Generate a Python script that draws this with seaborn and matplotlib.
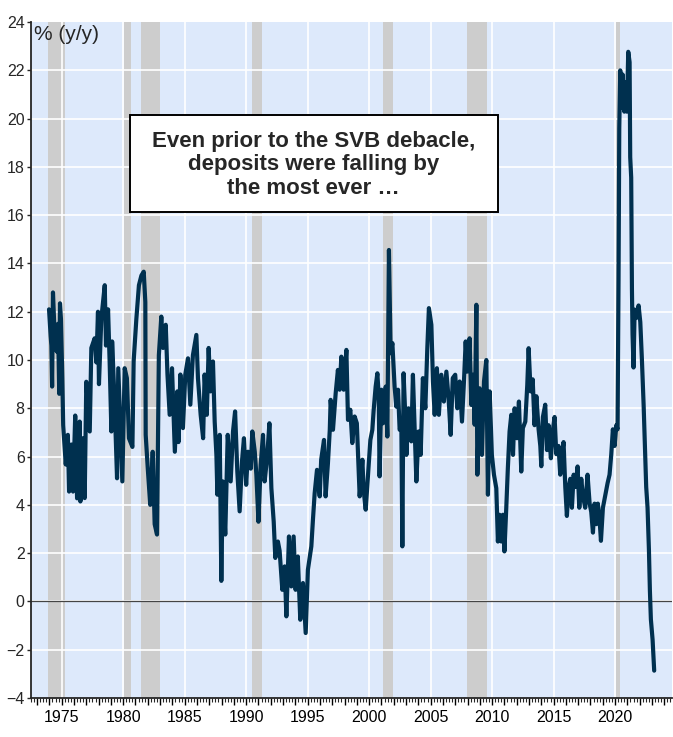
import matplotlib
matplotlib.use("Agg")
import matplotlib.pyplot as plt
import matplotlib.ticker as mticker
import pandas as pd
import seaborn as sns

# Deposits growth, % y/y
years = [1973.97, 1974.10, 1974.16, 1974.22, 1974.29, 1974.43, 1974.60, 1974.70, 1974.80, 1974.86,
         1974.94, 1975.05, 1975.12, 1975.33, 1975.50, 1975.60, 1975.79, 1975.92, 1976.10, 1976.25,
         1976.46, 1976.52, 1976.70, 1976.87, 1977.00, 1977.28, 1977.41, 1977.68, 1977.82, 1977.95,
         1978.03, 1978.22, 1978.50, 1978.60, 1978.77, 1978.90, 1979.04, 1979.10, 1979.30, 1979.50,
         1979.60, 1979.80, 1979.93, 1980.12, 1980.30, 1980.47, 1980.75, 1980.85, 1981.07, 1981.28,
         1981.48, 1981.67, 1981.80, 1981.83, 1982.00, 1982.20, 1982.40, 1982.56, 1982.75, 1982.90,
         1983.10, 1983.24, 1983.46, 1983.60, 1983.78, 1983.97, 1984.20, 1984.40, 1984.50, 1984.65,
         1984.86, 1985.05, 1985.27, 1985.46, 1985.67, 1985.95, 1986.08, 1986.30, 1986.50, 1986.62,
         1986.80, 1986.95, 1987.10, 1987.30, 1987.44, 1987.58, 1987.66, 1987.85, 1987.98, 1988.10,
         1988.30, 1988.50, 1988.74, 1988.93, 1989.10, 1989.28, 1989.47, 1989.66, 1989.82, 1990.00,
         1990.15, 1990.37, 1990.50, 1990.70, 1990.83, 1991.00, 1991.18, 1991.37, 1991.50, 1991.70,
         1991.89, 1992.05, 1992.24, 1992.37, 1992.58, 1992.72, 1992.80, 1992.94, 1993.13, 1993.27,
         1993.48, 1993.67, 1993.86, 1994.02, 1994.20, 1994.40, 1994.62, 1994.84, 1995.02, 1995.30,
         1995.43, 1995.57, 1995.76, 1995.98, 1996.10, 1996.33, 1996.46, 1996.65, 1996.80, 1996.87,
         1997.06, 1997.28, 1997.46, 1997.60, 1997.74, 1997.93, 1998.15, 1998.28, 1998.47, 1998.63,
         1998.82, 1999.00, 1999.23, 1999.45, 1999.55, 1999.72, 1999.90, 2000.10, 2000.26, 2000.37,
         2000.53, 2000.67, 2000.78, 2000.85, 2001.00, 2001.13, 2001.35, 2001.48, 2001.61, 2001.75,
         2001.89, 2002.07, 2002.21, 2002.35, 2002.48, 2002.62, 2002.70, 2002.80, 2002.92, 2003.03,
         2003.20, 2003.43, 2003.56, 2003.70, 2003.84, 2004.02, 2004.19, 2004.37, 2004.57, 2004.73,
         2004.86, 2005.06, 2005.19, 2005.33, 2005.51, 2005.67, 2005.87, 2006.08, 2006.28, 2006.46,
         2006.63, 2006.80, 2007.00, 2007.17, 2007.36, 2007.55, 2007.71, 2007.85, 2007.98, 2008.17,
         2008.31, 2008.44, 2008.58, 2008.72, 2008.80, 2008.98, 2009.17, 2009.34, 2009.53, 2009.66,
         2009.80, 2009.98, 2010.15, 2010.34, 2010.47, 2010.60, 2010.75, 2010.88, 2011.00, 2011.15,
         2011.28, 2011.42, 2011.56, 2011.70, 2011.83, 2012.02, 2012.18, 2012.37, 2012.50, 2012.70,
         2012.86, 2012.97, 2013.13, 2013.30, 2013.45, 2013.60, 2013.78, 2013.92, 2014.00, 2014.13,
         2014.32, 2014.46, 2014.59, 2014.78, 2014.95, 2015.08, 2015.22, 2015.40, 2015.54, 2015.68,
         2015.81, 2015.95, 2016.08, 2016.22, 2016.36, 2016.49, 2016.63, 2016.79, 2016.95, 2017.09,
         2017.25, 2017.38, 2017.57, 2017.76, 2017.93, 2018.06, 2018.20, 2018.33, 2018.47, 2018.60,
         2018.74, 2018.85, 2019.01, 2019.20, 2019.39, 2019.55, 2019.69, 2019.82, 2019.96, 2020.10,
         2020.20, 2020.28, 2020.34, 2020.42, 2020.50, 2020.61, 2020.75, 2020.88, 2020.96, 2021.07,
         2021.18, 2021.23, 2021.31, 2021.37, 2021.42, 2021.50, 2021.59, 2021.72, 2021.91, 2022.05,
         2022.18, 2022.32, 2022.45, 2022.53, 2022.64, 2022.75, 2022.83, 2022.91, 2023.05, 2023.18]
growth = [12.1, 11.0, 10.6, 8.9, 12.8, 11.0, 10.35, 11.5, 8.6, 12.35,
          11.7, 9.25, 7.3, 5.67, 6.9, 4.55, 6.5, 4.55, 7.7, 4.27,
          7.45, 4.14, 6.76, 4.28, 9.1, 7.04, 10.5, 10.9, 9.9, 12.0,
          9.0, 11.7, 13.1, 10.6, 12.1, 9.9, 7.04, 10.77, 8.28, 5.1,
          9.66, 6.76, 4.97, 9.66, 9.25, 6.76, 6.4, 9.94, 11.7, 13.1,
          13.5, 13.66, 12.4, 6.9, 5.5, 4.0, 6.2, 3.2, 2.77, 10.2,
          11.8, 10.5, 11.46, 9.4, 7.73, 9.66, 6.2, 8.7, 6.6, 9.4,
          7.18, 9.4, 10.07, 8.15, 10.2, 11.04, 9.25, 7.73, 6.76, 9.4,
          7.73, 10.5, 8.7, 9.94, 7.45, 6.07, 4.42, 6.9, 0.85, 4.97,
          2.77, 6.9, 4.97, 7.04, 7.87, 5.38, 3.73, 5.8, 6.76, 4.83,
          6.2, 5.5, 7.04, 6.2, 5.25, 3.3, 5.66, 6.9, 4.97, 5.93,
          7.38, 4.69, 3.3, 1.8, 2.48, 2.1, 1.5, 0.48, 1.45, -0.62,
          2.69, 0.62, 2.69, 0.48, 1.86, -0.76, 0.76, -1.31, 1.31, 2.28,
          3.38, 4.48, 5.45, 4.35, 5.87, 6.69, 4.35, 5.73, 7.11, 8.35,
          7.11, 8.63, 9.59, 8.77, 10.14, 8.77, 10.42, 7.52, 7.94, 6.56,
          7.66, 7.38, 4.35, 5.87, 4.62, 3.8, 5.18, 6.69, 7.11, 7.94,
          8.9, 9.45, 8.49, 5.18, 8.77, 7.38, 8.9, 6.83, 14.56, 10.28,
          10.7, 8.9, 8.07, 8.77, 7.11, 7.25, 2.28, 9.45, 7.94, 6.07,
          8.0, 6.63, 9.39, 7.18, 4.97, 7.04, 6.07, 9.25, 8.0, 10.49,
          12.15, 11.46, 9.11, 7.73, 9.66, 7.73, 9.39, 8.28, 9.52, 8.42,
          6.9, 9.25, 9.39, 8.0, 9.11, 7.45, 9.11, 10.77, 9.52, 10.9,
          8.14, 9.39, 7.32, 12.29, 5.25, 8.83, 6.07, 9.11, 10.0, 4.42,
          8.7, 6.07, 5.25, 4.69, 2.48, 3.59, 2.48, 3.59, 2.07, 3.86,
          5.52, 7.04, 7.73, 6.07, 8.0, 6.76, 8.28, 5.38, 7.18, 7.45,
          8.97, 10.49, 8.7, 9.2, 7.3, 8.5, 7.13, 6.44, 5.6, 7.64,
          8.15, 6.27, 7.3, 5.93, 7.13, 7.64, 6.1, 6.44, 5.25, 6.1,
          6.6, 4.74, 3.54, 4.74, 5.08, 3.88, 5.25, 4.74, 5.59, 3.88,
          5.08, 4.39, 3.88, 5.25, 4.05, 3.71, 2.85, 4.05, 3.2, 4.05,
          3.37, 2.51, 3.88, 4.39, 4.9, 5.25, 6.1, 7.13, 6.44, 7.3,
          7.13, 13.28, 19.6, 22.0, 20.46, 21.83, 20.29, 21.5, 20.29, 22.77,
          22.34, 18.4, 17.56, 12.94, 11.06, 9.69, 12.09, 11.74, 12.26, 11.57,
          10.03, 8.15, 6.1, 4.74, 3.88, 2.17, 0.46, -0.74, -1.59, -2.87]

# Recessions (shaded)
rec_start = [1973.85, 1980.05, 1981.45, 1990.45, 2001.15, 2007.95, 2020.10]
rec_end = [1975.30, 1980.60, 1983.00, 1991.25, 2001.95, 2009.55, 2020.40]

y_ticks = list(range(-4, 25, 2))
note = "Even prior to the SVB debacle,\ndeposits were falling by\nthe most ever \u2026"

df = pd.DataFrame({"year": years, "growth": growth})

sns.set_style("ticks")
plt.rcParams["font.family"] = ["Liberation Sans", "DejaVu Sans"]

fig = plt.figure(figsize=(6.73, 7.37), dpi=100)
ax = fig.add_axes([0.046, 0.053, 0.952, 0.917])
ax.set_facecolor("#dde9fb")

for s, e in zip(rec_start, rec_end):
    ax.axvspan(s, e, color="#cdcdcd", lw=0, zorder=0.5)

ax.set_xlim(1972.5, 2024.6)
ax.set_ylim(-4, 24)
for yv in y_ticks[1:-1]:
    ax.axhline(yv, color="white", lw=1.2, zorder=1)
for xv in range(1975, 2025, 5):
    ax.axvline(xv, color="white", lw=1.2, zorder=1)
ax.axhline(0, color="#444444", lw=0.9, zorder=1.5)

sns.lineplot(data=df, x="year", y="growth", ax=ax, color="#00304f",
             lw=3.0, sort=False, zorder=3)

ax.set_xlabel("")
ax.set_ylabel("")
ax.set_yticks(y_ticks)
ax.xaxis.set_major_locator(mticker.MultipleLocator(1))
ax.xaxis.set_minor_locator(mticker.MultipleLocator(0.25))
ax.xaxis.set_major_formatter(mticker.FuncFormatter(
    lambda v, p: str(int(round(v))) if int(round(v)) % 5 == 0 else ""))

for lab in ax.get_xticklabels() + ax.get_yticklabels():
    lab.set_fontsize(11.5)
ax.tick_params(axis="x", which="major", length=5, width=1, pad=4, colors="black")
ax.tick_params(axis="x", which="minor", length=3, width=0.8)
ax.tick_params(axis="y", length=3, width=1, pad=1.5)

for side in ["top", "right"]:
    ax.spines[side].set_visible(False)
ax.spines["left"].set_linewidth(1.3)
ax.spines["bottom"].set_linewidth(1.3)

ax.text(0.005, 0.995, "% (y/y)", transform=ax.transAxes, fontsize=15,
        ha="left", va="top", zorder=5)

box = plt.Rectangle((0.154, 0.719), 0.575, 0.143, transform=ax.transAxes,
                    facecolor="white", edgecolor="black", lw=1.4, zorder=6)
ax.add_patch(box)
ax.text(0.4415, 0.789, note, transform=ax.transAxes, fontsize=16,
        fontweight="bold", ha="center", va="center", linespacing=1.15, zorder=7)

fig.savefig("out.png", dpi=100)
